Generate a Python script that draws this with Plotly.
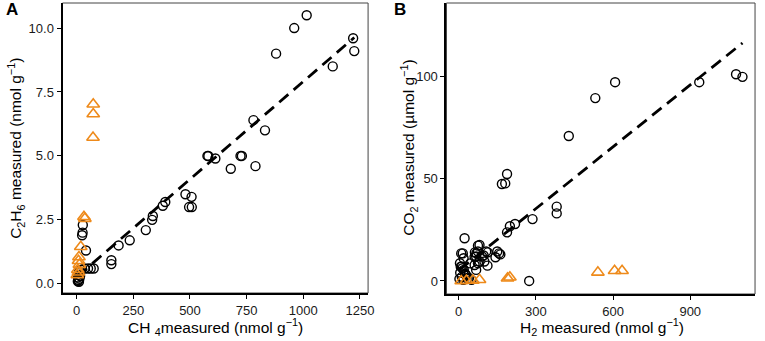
import numpy as np
import plotly.graph_objects as go

# ---------------- Panel A data: CH4 vs C2H6 ----------------
a_circle_x = [1015, 960, 880, 1220, 1225, 1130, 780, 831, 789, 680, 612, 577, 581,
              723, 729, 480, 507, 496, 508, 391, 380, 336, 333, 305, 234, 185,
              153, 153, 41, 27, 26, 24, 50, 62, 75, 35, 20, 10, 8, 6, 8, 10, 5, 15, 12]
a_circle_y = [10.5, 10.0, 9.0, 9.6, 9.1, 8.5, 6.4, 6.0, 4.6, 4.5, 4.9, 5.0, 5.0,
              5.0, 5.0, 3.5, 3.4, 3.0, 3.0, 3.2, 3.05, 2.65, 2.5, 2.1, 1.7, 1.5,
              0.92, 0.77, 1.3, 2.3, 2.0, 1.9, 0.6, 0.6, 0.6, 0.6, 0.55, 0.45, 0.35, 0.25,
              0.15, 0.08, 0.1, 0.3, 0.2]
a_tri_x = [73, 73, 72, 32, 36, 18, 10, 8, 12, 5, 8, 3]
a_tri_y = [7.02, 6.64, 5.72, 2.62, 2.55, 1.45, 1.05, 0.9, 0.75, 0.55, 0.45, 0.35]

# ---------------- Panel B data: H2 vs CO2 ----------------
b_circle_x = [1078, 1103, 935, 608, 531, 428, 381, 381, 287, 219, 199, 188, 188, 168,
              181, 157, 162, 143, 113, 112, 91, 81, 75, 63, 68, 68, 45, 23, 10, 16,
              19, 12, 81, 75, 69, 107, 97, 62, 150, 62, 75, 100, 5, 8, 15, 20, 25,
              30, 40, 3, 6, 12, 18, 28, 35, 50, 274]
b_circle_y = [101.3, 100.0, 97.4, 97.4, 89.6, 71.0, 36.4, 33.1, 30.3, 27.9, 26.8, 23.8,
              52.4, 47.5, 47.8, 13.5, 13.0, 11.6, 14.0, 7.5, 12.0, 9.5, 17.3, 14.0,
              12.0, 5.4, 8.6, 20.9, 13.5, 13.5, 11.1, 7.0, 17.6, 14.4, 13.6, 14.4,
              12.5, 11.8, 14.4, 7.8, 8.7, 9.5, 8.7, 7.0, 6.2, 5.4, 3.5, 2.5, 1.5,
              1.0, 4.0, 2.0, 0.5, 3.0, 1.0, 0.5, 0.0]
b_tri_x = [635, 606, 541, 199, 190, 81, 55, 30, 10]
b_tri_y = [5.0, 5.0, 4.2, 1.8, 1.3, 0.6, 0.3, 0.2, 0.0]

# tick labels
a_xticks = [0, 250, 500, 750, 1000, 1250]
a_yticks = [0.0, 2.5, 5.0, 7.5, 10.0]
b_xticks = [0, 300, 600, 900]
b_yticks = [0, 50, 100]

FONT = "Liberation Sans, Arial, Helvetica, sans-serif"
ORANGE = "#EE8A1A"
W, H = 765, 341


def fit_line(xs, ys):
    xs = np.asarray(xs, float)
    ys = np.asarray(ys, float)
    b, a = np.polyfit(xs, ys, 1)
    xx = np.array([xs.min(), xs.max()])
    return xx, a + b * xx


fig = go.Figure()

for (cx, cy, tx, ty, xa, ya) in [
    (a_circle_x, a_circle_y, a_tri_x, a_tri_y, "x", "y"),
    (b_circle_x, b_circle_y, b_tri_x, b_tri_y, "x2", "y2"),
]:
    fig.add_trace(go.Scatter(x=cx, y=cy, mode="markers", xaxis=xa, yaxis=ya,
                             marker=dict(symbol="circle-open", size=9, color="black",
                                         line=dict(width=1.4, color="black")),
                             showlegend=False, cliponaxis=False))
    lx, ly = fit_line(cx, cy)
    fig.add_trace(go.Scatter(x=lx, y=ly, mode="lines", xaxis=xa, yaxis=ya,
                             line=dict(color="black", width=2.8, dash="12px,7px"),
                             showlegend=False))
    fig.add_trace(go.Scatter(x=tx, y=ty, mode="markers", xaxis=xa, yaxis=ya,
                             marker=dict(symbol="triangle-up-open", size=11, color=ORANGE,
                                         line=dict(width=1.6, color=ORANGE)),
                             showlegend=False, cliponaxis=False))

axis_common = dict(showgrid=False, zeroline=False, showline=True, linecolor="black",
                   linewidth=2, ticks="outside", ticklen=4, tickwidth=1.2, tickcolor="black",
                   tickfont=dict(family=FONT, size=13, color="#1a1a1a"))

def px_x(p):
    return p / W

def px_y(p):
    return 1 - p / H

fig.update_layout(
    width=W, height=H, margin=dict(l=0, r=0, t=0, b=0),
    plot_bgcolor="white", paper_bgcolor="white",
    xaxis=dict(domain=[px_x(63), px_x(371)], range=[-62.6, 1286],
               tickvals=a_xticks, ticktext=[str(v) for v in a_xticks], anchor="y", **axis_common),
    yaxis=dict(domain=[px_y(293), px_y(3)], range=[-0.36, 10.98],
               tickvals=a_yticks, ticktext=[f"{v:.1f}" for v in a_yticks], anchor="x", **axis_common),
    xaxis2=dict(domain=[px_x(450), px_x(761)], range=[-47.4, 1151.8],
                tickvals=b_xticks, ticktext=[str(v) for v in b_xticks], anchor="y2", **axis_common),
    yaxis2=dict(domain=[px_y(294), px_y(3)], range=[-6.4, 136.2],
                tickvals=b_yticks, ticktext=[str(v) for v in b_yticks], anchor="x2", **axis_common),
)

# panel border (thin grey) for top/right
for xr, yr in [("x", "y"), ("x2", "y2")]:
    fig.add_shape(type="rect", xref=f"{xr} domain", yref=f"{yr} domain",
                  x0=0, x1=1, y0=0, y1=1, line=dict(color="#444444", width=1), layer="below")

tfont = dict(family=FONT, size=15.5, color="black")
ann = [
    dict(text="<b>A</b>", x=px_x(12), y=px_y(10), font=dict(family=FONT, size=17, color="black")),
    dict(text="<b>B</b>", x=px_x(403), y=px_y(10), font=dict(family=FONT, size=17, color="black")),
    dict(text="CH <sub>4</sub>measured (nmol g<sup>−1</sup>)", x=px_x(217), y=px_y(327), font=tfont),
    dict(text="H<sub>2</sub> measured (nmol g<sup>−1</sup>)", x=px_x(607), y=px_y(327), font=tfont),
    dict(text="C<sub>2</sub>H<sub>6</sub> measured (nmol g<sup>−1</sup>)", x=px_x(16), y=px_y(148),
         font=tfont, textangle=-90),
    dict(text="CO<sub>2</sub> measured (µmol g<sup>−1</sup>)", x=px_x(412), y=px_y(148),
         font=tfont, textangle=-90),
]
for a in ann:
    fig.add_annotation(xref="paper", yref="paper", showarrow=False,
                       xanchor="center", yanchor="middle", **a)

fig.write_html("out.html", config={"displayModeBar": False},
               post_script="document.body.style.margin='0';document.body.style.padding='0';"
                           "document.body.style.overflow='hidden';")
